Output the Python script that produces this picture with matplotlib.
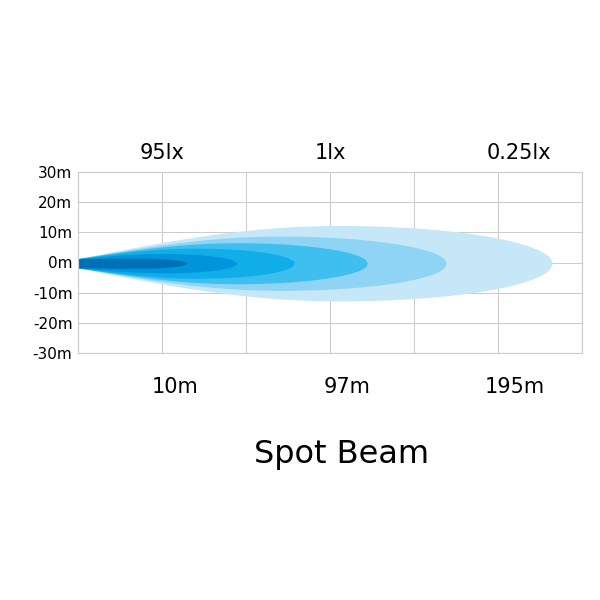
import numpy as np
import matplotlib
matplotlib.use("Agg")
import matplotlib.pyplot as plt

# beam layers, outer to inner: reach (grid units), max half-width (m), colour
reach = [5.65, 4.39, 3.45, 2.58, 1.89, 1.30]
half_width = [12.5, 9.0, 6.8, 5.0, 3.2, 1.7]
colors = ["#c6e7f8", "#8fd4f5", "#3fbfef", "#10ade8", "#0095da", "#0070b6"]
top_labels = ["95lx", "1lx", "0.25lx"]
top_pos = [1.0, 3.0, 5.25]
bottom_labels = ["10m", "97m", "195m"]
bottom_pos = [1.15, 3.2, 5.2]
yticks = [30, 20, 10, 0, -10, -20, -30]

fig = plt.figure(figsize=(6, 6), dpi=100)
ax = fig.add_axes([0.13, 0.4117, 0.84, 0.3016])
ax.set_xlim(0, 6)
ax.set_ylim(-30, 30)

for L, w, c in zip(reach, half_width, colors):
    peak = 0.55 * L
    x = np.linspace(0, L, 300)
    left = x < peak
    prof = np.empty_like(x)
    w0 = min(1.5, w)
    prof[left] = w0 + (w - w0) * np.sin(np.pi / 2 * x[left] / peak)
    t = (x[~left] - peak) / (L - peak)
    prof[~left] = w * np.sqrt(np.clip(1 - t ** 2, 0, 1))
    xs = np.concatenate([x, x[::-1]])
    ys = np.concatenate([prof - 0.4, (-prof - 0.4)[::-1]])
    ax.fill(xs, ys, color=c, lw=0, zorder=2)

ax.set_xticks(range(7))
ax.set_yticks(yticks)
ax.set_yticklabels([f"{v}m" for v in yticks], fontsize=11)
ax.tick_params(axis="x", labelbottom=False, length=0)
ax.tick_params(axis="y", length=0, pad=4)
ax.grid(True, color="#cccccc", lw=0.8, zorder=0)
for s in ax.spines.values():
    s.set_color("#cccccc")
    s.set_linewidth(0.8)

for t, p in zip(top_labels, top_pos):
    ax.text(p, 33, t, ha="center", va="bottom", fontsize=15)
for t, p in zip(bottom_labels, bottom_pos):
    ax.text(p, -38, t, ha="center", va="top", fontsize=15)
fig.text(0.57, 0.242, "Spot Beam", ha="center", va="center", fontsize=23)

fig.savefig("out.png", dpi=100)
